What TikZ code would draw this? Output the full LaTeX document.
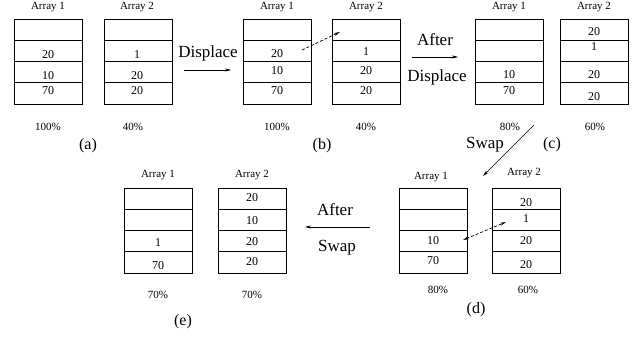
\documentclass[tikz,border=0pt]{standalone}
\usepackage{fontspec}
\setmainfont{Liberation Serif}
\usetikzlibrary{arrows.meta}
\tikzset{
  cell/.style={draw, line width=0.9pt, minimum width=68pt, minimum height=21.25pt, inner sep=0pt, outer sep=0pt},
  val/.style={inner sep=0pt, font=\fontsize{12}{12}\selectfont},
  alabel/.style={inner sep=0pt, font=\fontsize{11}{11}\selectfont},
  pct/.style={inner sep=0pt, font=\fontsize{11}{11}\selectfont},
  sub/.style={inner sep=0pt, font=\fontsize{16}{16}\selectfont},
  big/.style={inner sep=0pt, font=\fontsize{17}{17}\selectfont},
  mainarrow/.style={line width=0.6pt, -{Stealth[length=6pt,width=3pt]}},
  dasharrow/.style={line width=0.7pt, dashed, dash pattern=on 3pt off 2pt, -{Stealth[length=6pt,width=3pt]}},
  dasharrowtwo/.style={line width=0.7pt, dash pattern=on 3pt off 2pt, {Stealth[length=6pt,width=3pt]}-{Stealth[length=6pt,width=3pt]}}
}
\newcommand{\myarray}[3]{%
  \foreach \i in {1,2,3,4} {
    \node[cell] (#1-\i) at ({#2+34}, {#3+10.625+(\i-1)*21.25}) {};
  }
}
\begin{document}
\begin{tikzpicture}[x=1pt,y=-1pt]
\useasboundingbox (0,0) rectangle (632,337);
% ---- panel (a)
\myarray{aA}{14}{19}
\myarray{aB}{104}{19}
\node[alabel] (aAl) at (48,7) {Array 1};
\node[alabel] (aBl) at (137,7) {Array 2};
\node[val] (aA2) at (48,55) {20};
\node[val] (aA3) at (48,76) {10};
\node[val] (aA4) at (48,91) {70};
\node[val] (aB2) at (137,55) {1};
\node[val] (aB3) at (137,76) {20};
\node[val] (aB4) at (137,91) {20};
\node[pct] (aAp) at (48,127) {100\%};
\node[pct] (aBp) at (133,127) {40\%};
\node[sub] (asub) at (88,146) {(a)};
% ---- panel (b)
\myarray{bA}{243}{19}
\myarray{bB}{332}{19}
\node[alabel] (bAl) at (277,7) {Array 1};
\node[alabel] (bBl) at (366,7) {Array 2};
\node[val] (bA2) at (277,54) {20};
\node[val] (bA3) at (277,71) {10};
\node[val] (bA4) at (277,91) {70};
\node[val] (bB2) at (366,52) {1};
\node[val] (bB3) at (366,71) {20};
\node[val] (bB4) at (366,91) {20};
\node[pct] (bAp) at (277,127) {100\%};
\node[pct] (bBp) at (366,127) {40\%};
\node[sub] (bsub) at (322,146) {(b)};
% ---- panel (c)
\myarray{cA}{475}{19}
\myarray{cB}{560}{19}
\node[alabel] (cAl) at (509,7) {Array 1};
\node[alabel] (cBl) at (594,7) {Array 2};
\node[val] (cA3) at (509,75) {10};
\node[val] (cA4) at (509,91) {70};
\node[val] (cB1) at (594,32) {20};
\node[val] (cB2) at (594,47) {1};
\node[val] (cB3) at (594,75) {20};
\node[val] (cB4) at (594,97) {20};
\node[pct] (cAp) at (510,127) {80\%};
\node[pct] (cBp) at (595,127) {60\%};
\node[sub] (csub) at (552,145) {(c)};
% ---- panel (d)
\myarray{dA}{399}{188}
\myarray{dB}{492}{188}
\node[alabel] (dAl) at (431,177) {Array 1};
\node[alabel] (dBl) at (524,173) {Array 2};
\node[val] (dA3) at (433,241) {10};
\node[val] (dA4) at (433,261) {70};
\node[val] (dB1) at (526,203) {20};
\node[val] (dB2) at (526,219) {1};
\node[val] (dB3) at (526,241) {20};
\node[val] (dB4) at (526,265) {20};
\node[pct] (dAp) at (438,290) {80\%};
\node[pct] (dBp) at (528,290) {60\%};
\node[sub] (dsub) at (476,310) {(d)};
% ---- panel (e)
\myarray{eA}{124}{188}
\myarray{eB}{218}{188}
\node[alabel] (eAl) at (158,175) {Array 1};
\node[alabel] (eBl) at (252,175) {Array 2};
\node[val] (eA3) at (158,243) {1};
\node[val] (eA4) at (158,266) {70};
\node[val] (eB1) at (252,198) {20};
\node[val] (eB2) at (252,221) {10};
\node[val] (eB3) at (252,242) {20};
\node[val] (eB4) at (252,262) {20};
\node[pct] (eAp) at (158,295) {70\%};
\node[pct] (eBp) at (252,295) {70\%};
\node[sub] (esub) at (183,322) {(e)};
% ---- transitions
\coordinate (d1s) at (184,70);
\coordinate (d1e) at (231,70);
\draw[mainarrow] (d1s) -- (d1e);
\node[big] (d1t) at (208,53) {Displace};
\coordinate (d2s) at (412,57);
\coordinate (d2e) at (458,57);
\draw[mainarrow] (d2s) -- (d2e);
\node[big] (d2a) at (435,40) {After};
\node[big] (d2b) at (437,77) {Displace};
\coordinate (sws) at (534,125);
\coordinate (swe) at (483,176);
\draw[mainarrow] (sws) -- (swe);
\node[big] (swt) at (485,145) {Swap};
\coordinate (as1) at (370,227);
\coordinate (as2) at (305,227);
\draw[mainarrow] (as1) -- (as2);
\node[big] (asa) at (335,210) {After};
\node[big] (asb) at (337,248) {Swap};
% ---- dashed moves
\coordinate (mvbS) at (302,50);
\coordinate (mvbE) at (340,32);
\draw[dasharrow] (mvbS) -- (mvbE);
\coordinate (mvdS) at (463,240);
\coordinate (mvdE) at (506,222);
\draw[dasharrowtwo] (mvdS) -- (mvdE);
\end{tikzpicture}
\end{document}
